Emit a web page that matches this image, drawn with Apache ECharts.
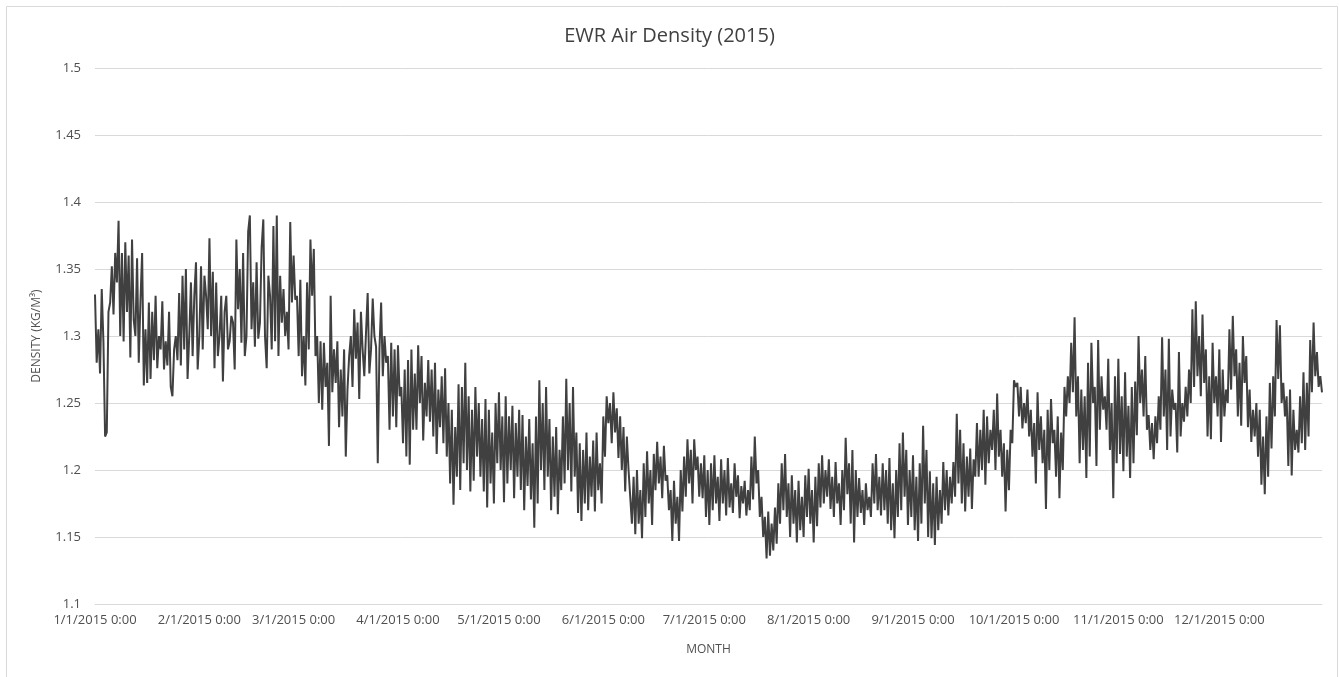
<!DOCTYPE html>
<html><head><meta charset="utf-8">
<script src="https://cdn.jsdelivr.net/npm/echarts@6/dist/echarts.min.js"></script>
<style>html,body{margin:0;padding:0;background:#fff}#c{width:1339px;height:677px}</style>
</head><body><div id="c"></div>
<script>
// Two readings per day (0:00 and 12:00)
const monthNames = [1,2,3,4,5,6,7,8,9,10,11,12];
const monthDays = [31,28,31,30,31,30,31,31,30,31,30,31];
const jan = [1.331,1.280,1.305,1.272,1.335,1.296,1.225,1.228,1.318,1.325,1.352,1.316,1.362,1.340,1.386,1.300,1.362,1.296,1.370,1.318,
1.360,1.284,1.372,1.312,1.300,1.358,1.280,1.326,1.362,1.263,1.305,1.265,1.325,1.268,1.318,1.282,1.330,1.276,1.300,1.290,
1.326,1.275,1.296,1.278,1.318,1.262,1.255,1.290,1.300,1.282,1.332,1.278,1.345,1.290,1.350,1.268,1.300,1.340,1.285,1.330,1.355,1.275];
const feb = [1.300,1.352,1.290,1.345,1.330,1.305,1.373,1.300,1.348,1.276,1.340,1.285,1.300,1.330,1.266,1.318,1.330,1.290,1.296,1.315,
1.310,1.275,1.372,1.320,1.350,1.295,1.362,1.285,1.300,1.378,1.390,1.305,1.340,1.292,1.355,1.298,1.310,1.366,1.387,1.300,
1.276,1.345,1.330,1.290,1.382,1.296,1.390,1.285,1.345,1.310,1.335,1.300,1.318,1.290,1.385,1.325];
const mar = [1.360,1.327,1.330,1.285,1.342,1.270,1.300,1.263,1.340,1.290,1.372,1.330,1.365,1.285,1.300,1.250,1.296,1.245,1.295,1.262,
1.280,1.218,1.330,1.258,1.290,1.265,1.296,1.232,1.275,1.240,1.290,1.210,1.260,1.285,1.300,1.262,1.320,1.283,1.310,1.253,
1.318,1.290,1.270,1.302,1.332,1.272,1.290,1.328,1.300,1.292,1.205,1.290,1.325,1.270,1.300,1.280,1.285,1.230,1.295,1.240,1.290,1.232];
const apr = [1.293,1.255,1.262,1.220,1.275,1.210,1.282,1.204,1.290,1.230,1.272,1.230,1.293,1.250,1.285,1.222,1.265,1.240,1.282,1.236,
1.275,1.225,1.280,1.212,1.260,1.232,1.270,1.220,1.276,1.210,1.250,1.190,1.245,1.174,1.232,1.195,1.264,1.185,1.262,1.205,
1.280,1.200,1.255,1.184,1.245,1.192,1.262,1.210,1.250,1.195,1.238,1.184,1.253,1.172,1.245,1.190,1.228,1.175,1.250,1.205];
const may = [1.258,1.200,1.240,1.176,1.255,1.190,1.240,1.200,1.248,1.179,1.235,1.195,1.245,1.185,1.241,1.170,1.225,1.188,1.238,1.178,
1.220,1.157,1.240,1.175,1.267,1.200,1.250,1.185,1.262,1.195,1.238,1.170,1.225,1.180,1.232,1.167,1.215,1.185,1.240,1.190,
1.268,1.200,1.250,1.184,1.262,1.195,1.228,1.168,1.220,1.162,1.215,1.175,1.228,1.170,1.210,1.180,1.222,1.169,1.228,1.185,1.205,1.175];
const jun = [1.240,1.210,1.255,1.235,1.250,1.220,1.258,1.228,1.246,1.209,1.240,1.200,1.232,1.184,1.225,1.200,1.201,1.160,1.195,1.152,
1.200,1.160,1.185,1.149,1.205,1.165,1.214,1.175,1.200,1.159,1.212,1.185,1.221,1.190,1.210,1.179,1.218,1.192,1.196,1.170,
1.185,1.147,1.192,1.160,1.180,1.147,1.200,1.169,1.210,1.180,1.223,1.190,1.215,1.175,1.223,1.200,1.210,1.180,1.205,1.179];
const jul = [1.211,1.165,1.200,1.159,1.205,1.170,1.211,1.175,1.195,1.162,1.208,1.175,1.200,1.166,1.209,1.172,1.190,1.168,1.205,1.180,
1.196,1.164,1.188,1.175,1.192,1.166,1.185,1.170,1.210,1.178,1.225,1.190,1.200,1.165,1.180,1.150,1.165,1.134,1.169,1.136,
1.160,1.140,1.172,1.145,1.190,1.160,1.205,1.170,1.212,1.165,1.190,1.150,1.196,1.160,1.185,1.146,1.192,1.155,1.180,1.150,1.196,1.165];
const aug = [1.201,1.160,1.185,1.146,1.195,1.158,1.205,1.172,1.211,1.175,1.200,1.180,1.208,1.171,1.195,1.165,1.206,1.175,1.190,1.159,
1.200,1.170,1.224,1.182,1.205,1.160,1.215,1.146,1.200,1.165,1.194,1.168,1.185,1.159,1.190,1.170,1.180,1.165,1.205,1.175,
1.212,1.170,1.195,1.166,1.205,1.170,1.200,1.160,1.209,1.155,1.190,1.149,1.200,1.165,1.220,1.170,1.228,1.180,1.215,1.159,1.200,1.165];
const sep = [1.211,1.155,1.195,1.147,1.205,1.160,1.233,1.175,1.215,1.150,1.199,1.149,1.190,1.144,1.195,1.155,1.185,1.160,1.206,1.170,
1.200,1.166,1.195,1.175,1.206,1.180,1.242,1.190,1.230,1.175,1.220,1.169,1.210,1.180,1.216,1.171,1.208,1.195,1.235,1.195,
1.230,1.200,1.245,1.189,1.240,1.205,1.230,1.215,1.245,1.200,1.257,1.210,1.230,1.195,1.220,1.169,1.215,1.185,1.230,1.220];
const oct = [1.267,1.262,1.265,1.240,1.262,1.231,1.250,1.235,1.260,1.225,1.245,1.210,1.235,1.190,1.258,1.215,1.240,1.205,1.230,1.171,
1.245,1.200,1.253,1.220,1.230,1.195,1.240,1.179,1.228,1.200,1.262,1.240,1.270,1.250,1.295,1.258,1.314,1.240,1.270,1.205,
1.260,1.215,1.255,1.194,1.280,1.210,1.295,1.250,1.262,1.203,1.297,1.230,1.270,1.245,1.255,1.230,1.283,1.215,1.250,1.179,1.270,1.205];
const nov = [1.283,1.212,1.255,1.199,1.273,1.210,1.248,1.194,1.262,1.205,1.266,1.226,1.300,1.250,1.275,1.240,1.285,1.230,1.241,1.215,
1.235,1.208,1.240,1.220,1.255,1.230,1.299,1.240,1.275,1.215,1.298,1.225,1.260,1.245,1.250,1.213,1.288,1.225,1.250,1.236,
1.262,1.240,1.275,1.250,1.320,1.262,1.326,1.270,1.300,1.255,1.316,1.265,1.290,1.225,1.270,1.223,1.295,1.250,1.270,1.240];
const dec = [1.290,1.221,1.275,1.240,1.260,1.250,1.305,1.260,1.315,1.270,1.290,1.240,1.280,1.233,1.300,1.265,1.285,1.232,1.260,1.221,
1.245,1.225,1.250,1.210,1.245,1.189,1.225,1.182,1.240,1.195,1.265,1.216,1.270,1.240,1.312,1.268,1.308,1.250,1.265,1.240,
1.255,1.203,1.260,1.196,1.245,1.215,1.230,1.213,1.255,1.220,1.273,1.215,1.265,1.225,1.297,1.258,1.310,1.270,1.288,1.262,1.270,1.258];
const yTicks = [1.1,1.15,1.2,1.25,1.3,1.35,1.4,1.45,1.5];

const values = [].concat(jan,feb,mar,apr,may,jun,jul,aug,sep,oct,nov,dec);
const categories = [];
monthNames.forEach((m,i)=>{for(let d=1; d<=monthDays[i]; d++){categories.push(m+'/'+d+'/2015 0:00');categories.push(m+'/'+d+'/2015 12:00');}});

const FONT = '"Open Sans", sans-serif';
const TXT = '#505050';
const chart = echarts.init(document.getElementById('c'), null, {renderer:'canvas'});
chart.setOption({
  animation:false,
  backgroundColor:'#fff',
  title:{text:'EWR Air Density (2015)', left:'center', top:21,
    textStyle:{fontFamily:FONT, fontSize:20, fontWeight:'normal', color:'#404040'}},
  grid:{left:95, right:17, top:68, bottom:73, containLabel:false},
  xAxis:{type:'category', data:categories, boundaryGap:false,
    name:'MONTH', nameLocation:'middle', nameGap:40,
    nameTextStyle:{fontFamily:FONT, fontSize:12, color:TXT},
    axisLine:{show:true, lineStyle:{color:'#d9d9d9'}},
    axisTick:{show:false},
    axisLabel:{interval:(idx,val)=>/^\d+\/1\/2015 0:00$/.test(val), hideOverlap:false,
      fontFamily:FONT, fontSize:13, color:TXT, margin:10},
    splitLine:{show:false}},
  yAxis:{type:'value', min:yTicks[0], max:yTicks[yTicks.length-1], interval:0.05,
    name:'DENSITY (KG/M³)', nameLocation:'middle', nameGap:52, nameRotate:90,
    nameTextStyle:{fontFamily:FONT, fontSize:12, color:TXT},
    axisLine:{show:false}, axisTick:{show:false},
    axisLabel:{fontFamily:FONT, fontSize:13, color:TXT, margin:14},
    splitLine:{lineStyle:{color:'#d9d9d9', width:1}}},
  series:[{type:'line', data:values, showSymbol:false, sampling:null,
    lineStyle:{color:'#404040', width:2}, itemStyle:{color:'#404040'}}],
  graphic:[{type:'rect', shape:{x:6.5,y:6.5,width:1331,height:680}, style:{fill:null, stroke:'#d9d9d9', lineWidth:1}, silent:true}]
});
</script></body></html>
